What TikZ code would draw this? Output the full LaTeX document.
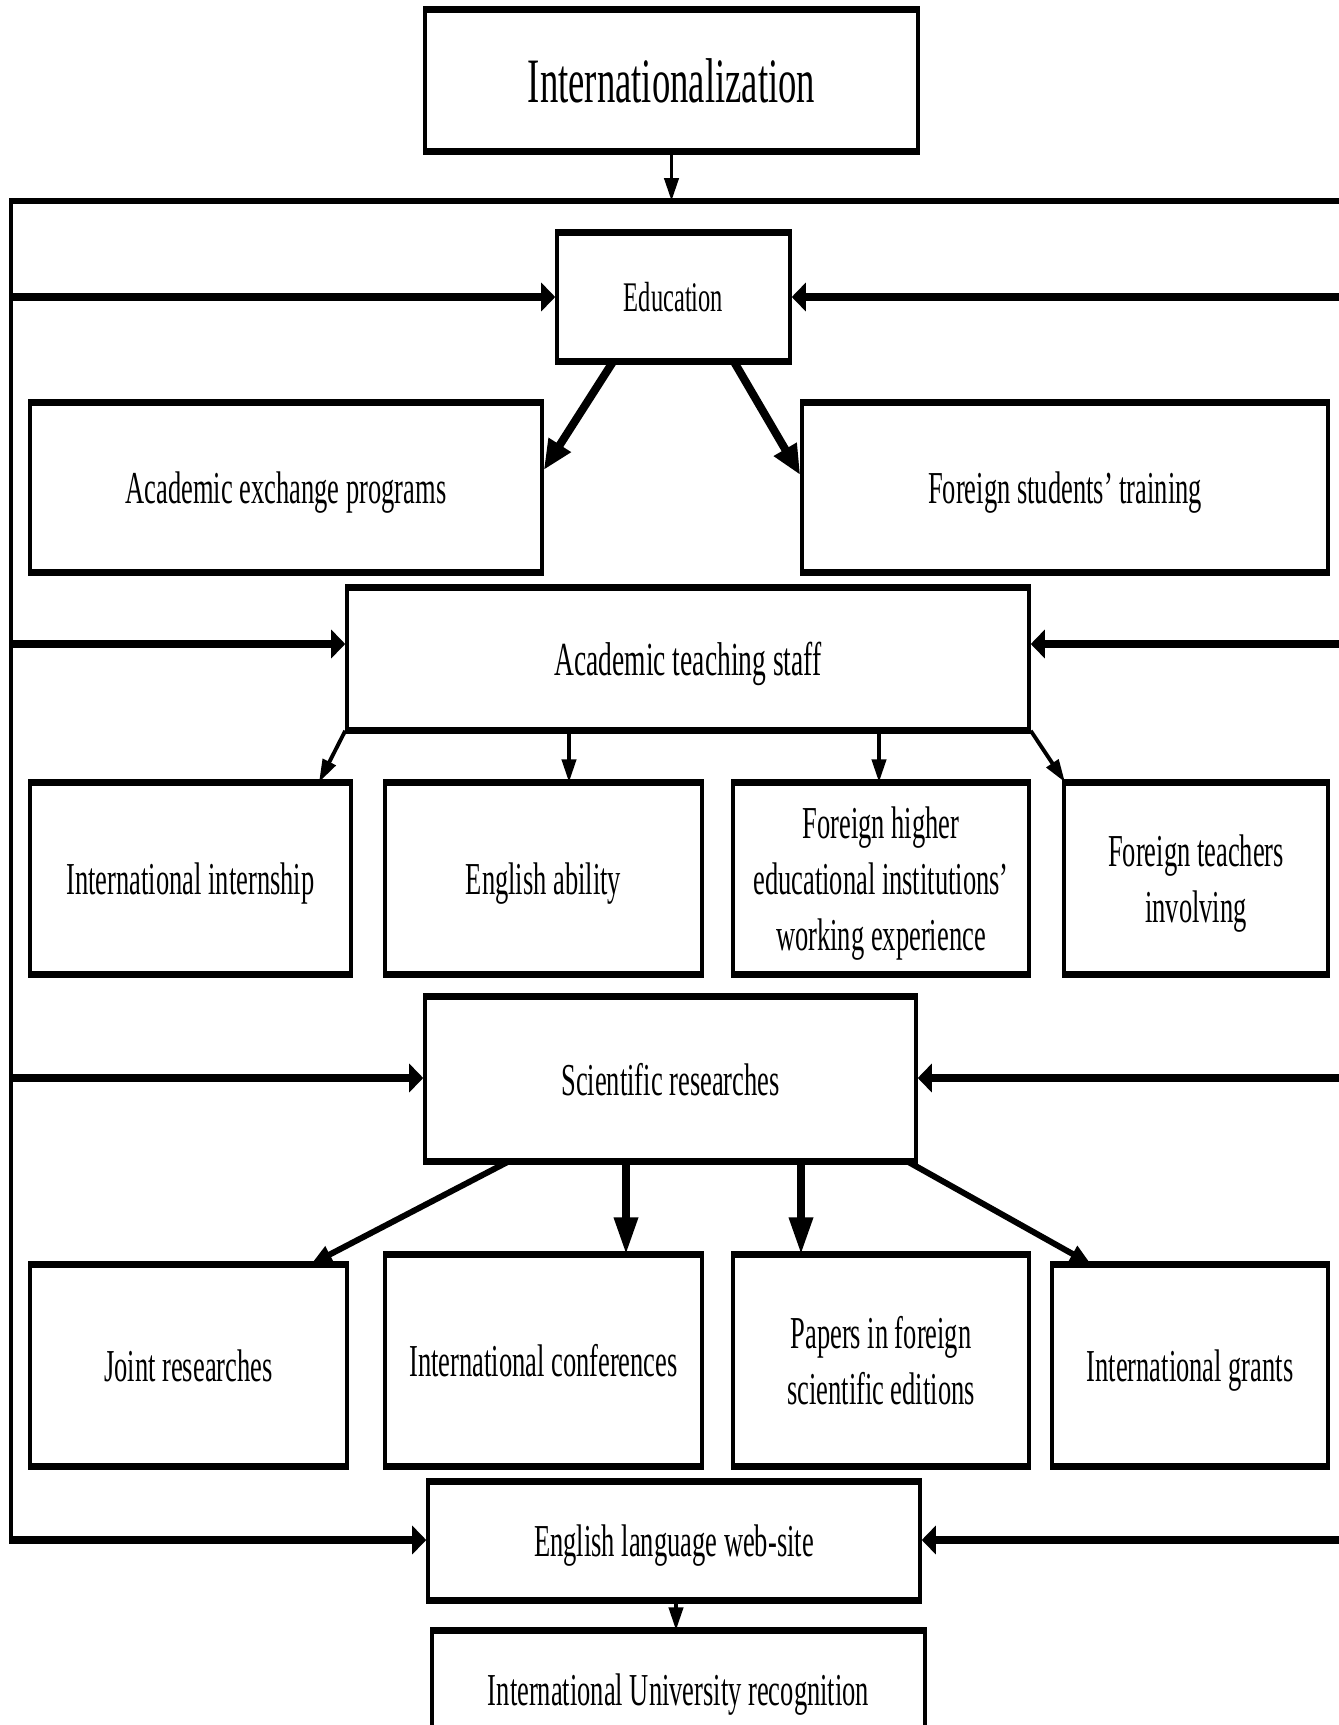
\documentclass[tikz,border=0pt]{standalone}
\usepackage{fontspec}
\setmainfont{Liberation Serif}[FakeStretch=0.58]
\usetikzlibrary{arrows.meta}

\begin{document}
\begin{tikzpicture}[x=0.02cm,y=-0.02cm,
  box/.style={draw,line width=2pt,inner sep=0pt,align=center,text depth=0pt,
    font=\fontsize{26}{32}\selectfont,
    append after command={(\tikzlastnode.north west) edge[line width=3.2pt] (\tikzlastnode.north east)
      (\tikzlastnode.south west) edge[line width=3.2pt] (\tikzlastnode.south east)}},
  dims/.style 2 args={minimum width=#1*0.02cm,minimum height=#2*0.02cm},
  inarr/.style={line width=4.8pt,-{Triangle[length=8pt,width=16pt]}},
  thinarr/.style={line width=2.2pt,-{Triangle[length=13pt,width=8pt]}},
  midarr/.style={line width=4pt,-{Triangle[length=21pt,width=13pt]}},
  edarr/.style={line width=4.6pt,-{Triangle[length=17pt,width=14pt]}},
  srarr/.style={line width=3.4pt,-{Triangle[length=12pt,width=10pt]}}]
  \useasboundingbox (0,0) rectangle (1339,1725);
  \clip (0,0) rectangle (1339,1725);

  \node[box,dims={493}{139},font=\fontsize{36}{42}\selectfont] (int) at (671.5,80.5) {Internationalization};
  \node[box,dims={233}{126},font=\fontsize{24}{28}\selectfont] (edu) at (673.5,297) {Education};
  \node[box,dims={512}{167}] (aep) at (286,487.5) {Academic exchange programs};
  \node[box,dims={526}{167}] (fst) at (1065,487.5) {Foreign students’ training};
  \node[box,dims={682}{140},font=\fontsize{27}{32}\selectfont] (ats) at (688,659) {Academic teaching staff};
  \node[box,dims={321}{189}] (ii) at (190.5,878.5) {International internship};
  \node[box,dims={317}{189}] (ea) at (543.5,878.5) {English ability};
  \node[box,dims={296}{189}] (fh) at (881,878.5) {Foreign higher\\educational institutions’\\working experience};
  \node[box,dims={264}{189}] (ft) at (1196,878.5) {Foreign teachers\\involving};
  \node[box,dims={491}{162}] (sr) at (670.5,1079) {Scientific researches};
  \node[box,dims={317}{199}] (jr) at (188.5,1365.5) {Joint researches};
  \node[box,dims={317}{209}] (ic) at (543.5,1360.5) {International conferences};
  \node[box,dims={296}{209}] (pf) at (881,1360.5) {Papers in foreign\\scientific editions};
  \node[box,dims={276}{199}] (ig) at (1190,1365.5) {International grants};
  \node[box,dims={492}{116}] (web) at (674,1541) {English language web-site};
  \node[box,dims={493}{116}] (iur) at (678.5,1690) {International University\ recognition};

  \coordinate (topL) at (11,201);
  \coordinate (topR) at (1350,201);
  \coordinate (l1) at (11,297);
  \coordinate (r1) at (1350,297);
  \coordinate (l2) at (11,644);
  \coordinate (r2) at (1350,644);
  \coordinate (l3) at (11,1078);
  \coordinate (r3) at (1350,1078);
  \coordinate (l4) at (11,1540);
  \coordinate (r4) at (1350,1540);

  \draw[line width=3.4pt] (topR) -- ([xshift=-1pt]topL);
  \draw[line width=2pt] (topL) -- (l4);
  \draw[thinarr] (int.south) -- (int.south |- topL);

  \draw[inarr] (l1) -- (edu.west |- l1);
  \draw[inarr] (r1) -- (edu.east |- r1);
  \draw[inarr] (l2) -- (ats.west |- l2);
  \draw[inarr] (r2) -- (ats.east |- r2);
  \draw[inarr] (l3) -- (sr.west |- l3);
  \draw[inarr] (r3) -- (sr.east |- r3);
  \draw[inarr] ([xshift=-1pt]l4) -- (web.west |- l4);
  \draw[inarr] (r4) -- (web.east |- r4);

  \draw[edarr] (edu.south -| 613,0) -- (aep.east |- 0,470);
  \draw[edarr] (edu.south -| 734,0) -- (fst.west |- 0,475);

  \draw[thinarr] (ats.south west) -- (ii.north -| 319,0);
  \draw[thinarr] (ats.south -| 569,0) -- (ea.north -| 569,0);
  \draw[thinarr] (ats.south -| 879,0) -- (fh.north -| 879,0);
  \draw[thinarr] (ats.south east) -- (ft.north -| 1065,0);

  \draw[srarr] (sr.south -| 508,0) -- (jr.north -| 311,0);
  \draw[midarr] (sr.south -| 626,0) -- (ic.north -| 626,0);
  \draw[midarr] (sr.south -| 801,0) -- (pf.north -| 801,0);
  \draw[srarr] (sr.south -| 908,0) -- (ig.north -| 1091,0);

  \draw[thinarr] (web.south -| 676,0) -- (iur.north -| 676,0);
\end{tikzpicture}
\end{document}
